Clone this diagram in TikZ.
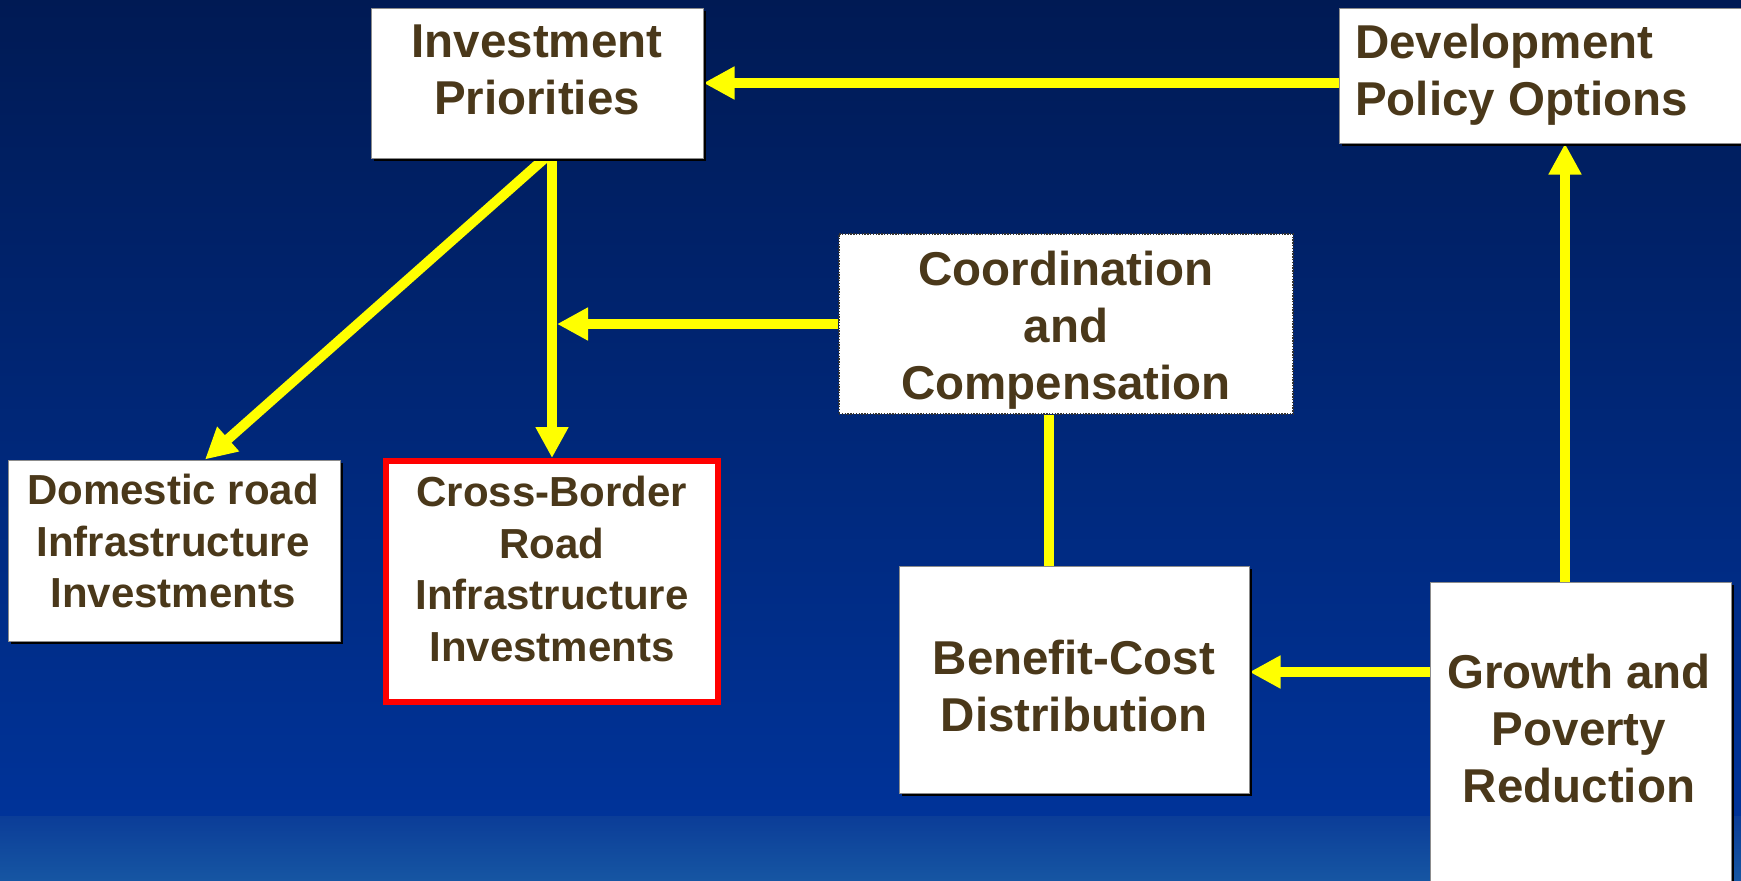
\documentclass[tikz,border=0pt]{standalone}
\usepackage{fontspec}
\setmainfont{Liberation Sans}
\usetikzlibrary{arrows.meta,shadows,backgrounds,calc}
\definecolor{txtbrown}{RGB}{74,56,26}
\definecolor{bgtop}{RGB}{0,26,84}
\definecolor{bgmid}{RGB}{0,43,130}
\definecolor{bgbot}{RGB}{0,51,153}
\definecolor{bandtop}{RGB}{11,61,152}
\definecolor{bandbot}{RGB}{22,86,163}
\definecolor{arrowyellow}{RGB}{255,255,0}
\begin{document}
\begin{tikzpicture}[x=1pt,y=-1pt,
  box/.style={draw=black!45, line width=1pt, fill=white, inner sep=0pt,
    drop shadow={shadow xshift=3pt, shadow yshift=-3pt, fill=black, opacity=1}},
  ccbox/.style={draw=black!80, line width=1.4pt, dash pattern=on 1.4pt off 1.4pt, fill=white, inner sep=0pt},
  cbbox/.style={draw=red, line width=6pt, fill=white, inner sep=0pt},
  txt/.style={text=txtbrown, font=\bfseries\fontsize{47.5}{57}\selectfont, align=center, inner sep=0pt},
  txts/.style={text=txtbrown, font=\bfseries\fontsize{42}{51.7}\selectfont, align=center, inner sep=0pt},
  arr/.style={draw=arrowyellow, line width=10pt, -{Triangle[length=31pt,width=31pt]}},
  plainline/.style={draw=arrowyellow, line width=10pt}]
\useasboundingbox (0,0) rectangle (1741,881);

% boxes
\node[box, minimum width=332pt, minimum height=150pt] (ip) at (537,83) {};
\node[box, minimum width=421pt, minimum height=135pt] (dp) at (1549.5,75.5) {};
\node[ccbox, minimum width=454pt, minimum height=180pt] (cc) at (1066,324) {};
\node[box, minimum width=332pt, minimum height=181pt] (dr) at (174,550.5) {};
\node[cbbox, minimum width=332pt, minimum height=241pt] (cb) at (552,581.5) {};
\node[box, minimum width=350pt, minimum height=227pt] (bc) at (1074,679.5) {};
\node[box, minimum width=301pt, minimum height=330pt] (gp) at (1580.5,747) {};

% texts
\node[txt] (ipT) at (537,70) {Investment\\Priorities};
\node[txt, align=left, anchor=west] (dpT) at (1355,75) {Development\\Policy Options};
\node[txt] (ccT) at (1066,330) {Coordination\\and\\Compensation};
\node[txts] (drT) at (173,541) {Domestic road\\Infrastructure\\Investments};
\node[txts] (cbT) at (552,569) {Cross-Border\\Road\\Infrastructure\\Investments};
\node[txt] (bcT) at (1074,686.5) {Benefit-Cost\\Distribution};
\node[txt] (gpT) at (1579,729) {Growth and\\Poverty\\Reduction};

\begin{scope}[on background layer]
  \shade[top color=bgtop, middle color=bgmid, bottom color=bgbot] (0,0) rectangle (1741,816);
  \shade[top color=bandtop, bottom color=bandbot] (0,816) rectangle (1741,881);
  % connectors
  \draw[arr] (dp.west |- ip.east) -- (ip.east);
  \draw[arr] ($(ip.south)+(12,-4)$) -- ($(dr.north)+(31,0)$);
  \draw[arr] ($(ip.south)+(15,0)$) -- (cb.north);
  \draw[arr] (cc.west) -- ($(cb.north |- cc.west)+(5,0)$);
  \draw[plainline] ($(cc.south)+(-17,0)$) -- ($(bc.north)+(-25,0)$);
  \draw[arr] ($(gp.west |- bc.east)+(0,-7.5)$) -- ($(bc.east)+(0,-7.5)$);
  \draw[arr] ($(gp.north)+(-15.5,0)$) -- ($(dp.south)+(15.5,0)$);
\end{scope}
\end{tikzpicture}
\end{document}
